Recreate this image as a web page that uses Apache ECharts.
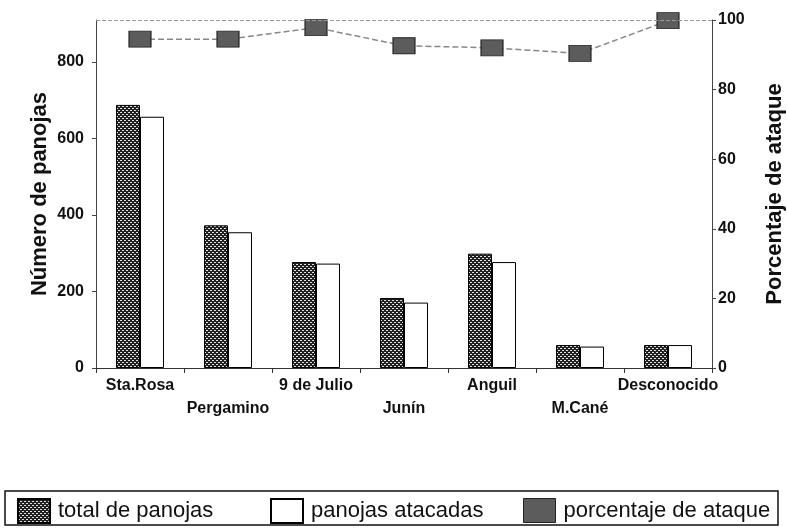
<!DOCTYPE html>
<html>
<head>
<meta charset="utf-8">
<script src="https://cdn.jsdelivr.net/npm/echarts@6/dist/echarts.min.js"></script>
<style>
html,body{margin:0;padding:0;background:#fff;}
#chart{width:787px;height:528px;}
</style>
</head>
<body>
<div id="chart"></div>
<script>
const categories = ['Sta.Rosa','Pergamino','9 de Julio','Junín','Anguil','M.Cané','Desconocido'];
const totalPanojas = [688, 373, 277, 183, 299, 60, 60];
const panojasAtacadas = [657, 355, 273, 171, 277, 56, 60];
const porcentajeAtaque = [94.5, 94.5, 97.8, 92.6, 92.0, 90.4, 99.8];
const leftTicks = [0, 200, 400, 600, 800];
const rightTicks = [0, 20, 40, 60, 80, 100];
const seriesNames = ['total de panojas','panojas atacadas','porcentaje de ataque'];

function makePattern(){
  const c = document.createElement('canvas');
  c.width = 4; c.height = 4;
  const g = c.getContext('2d');
  g.fillStyle = '#222'; g.fillRect(0,0,4,4);
  g.fillStyle = '#e0e0e0';
  g.fillRect(0,0,1,1); g.fillRect(1,0,1,1);
  g.fillRect(2,2,1,1); g.fillRect(3,2,1,1);
  return {image: c, repeat: 'repeat'};
}
const pattern = makePattern();

const FONT = 'Liberation Sans, Arial, sans-serif';
const axisFont = {fontFamily:FONT, fontWeight:'bold', color:'#111'};
function legendAt(left, item){
  return {
    left:left, top:498, padding:0,
    itemWidth:32, itemHeight:24,
    textStyle:{fontSize:22, fontFamily:FONT, color:'#111', padding:[0,0,0,3]},
    data:[item]
  };
}
const chart = echarts.init(document.getElementById('chart'));
chart.setOption({
  animation:false,
  backgroundColor:'#fff',
  grid:{left:96, right:75, top:20, bottom:160, outerBoundsMode:'none', containLabel:false},
  graphic:[{type:'rect', z:-1, shape:{x:5, y:491, width:773, height:34},
    style:{fill:'#fff', stroke:'#111', lineWidth:1.5}}],
  legend:[
    legendAt(17, {name:seriesNames[0], icon:'rect'}),
    legendAt(270, {name:seriesNames[1], icon:'rect'}),
    legendAt(523, {name:seriesNames[2], icon:'rect', itemStyle:{color:'#5c5c5c', borderColor:'#222', borderWidth:1}})
  ],
  xAxis:{
    type:'category', data:categories,
    axisLine:{lineStyle:{color:'#333', width:1}},
    axisTick:{show:true, length:5, lineStyle:{color:'#333'}},
    axisLabel:Object.assign({interval:0, fontSize:16, lineHeight:23, margin:6,
      formatter:(v,i)=> i%2 ? '\n'+v : v}, axisFont)
  },
  yAxis:[
    {type:'value', min:0, max:910, interval:200,
     name:'Número de panojas', nameLocation:'middle', nameGap:45, nameMoveOverlap:false,
     nameTextStyle:Object.assign({fontSize:22}, axisFont),
     axisLine:{show:true, lineStyle:{color:'#444', width:1}},
     axisTick:{show:true, length:4, lineStyle:{color:'#444'}},
     splitLine:{show:false},
     axisLabel:Object.assign({fontSize:16, margin:12, showMaxLabel:false,
       formatter:v=> leftTicks.indexOf(v)>=0 ? String(v) : ''}, axisFont)
    },
    {type:'value', min:0, max:100, interval:20, position:'right',
     name:'Porcentaje de ataque', nameLocation:'middle', nameGap:52, nameMoveOverlap:false,
     nameTextStyle:Object.assign({fontSize:22}, axisFont),
     axisLine:{show:true, lineStyle:{color:'#444', width:1}},
     axisTick:{show:true, length:4, lineStyle:{color:'#444'}},
     splitLine:{show:false},
     axisLabel:Object.assign({fontSize:16, margin:6,
       formatter:v=> rightTicks.indexOf(v)>=0 ? String(v) : ''}, axisFont)
    }
  ],
  series:[
    {name:seriesNames[0], type:'bar', data:totalPanojas, barWidth:24, barGap:'0%',
     itemStyle:{color:pattern, borderColor:'#000', borderWidth:1}},
    {name:seriesNames[1], type:'bar', data:panojasAtacadas, barWidth:24, barGap:'0%',
     itemStyle:{color:'#fff', borderColor:'#000', borderWidth:1}},
    {name:seriesNames[2], type:'line', yAxisIndex:1, data:porcentajeAtaque,
     symbol:'rect', symbolSize:[22,16],
     lineStyle:{color:'#888', width:1.5, type:'dashed'},
     itemStyle:{color:'#5c5c5c', borderColor:'#222', borderWidth:1},
     markLine:{silent:true, symbol:'none', label:{show:false},
       lineStyle:{color:'#999', width:1, type:'dashed'},
       data:[{yAxis:100}]}
    }
  ]
});
</script>
</body>
</html>
